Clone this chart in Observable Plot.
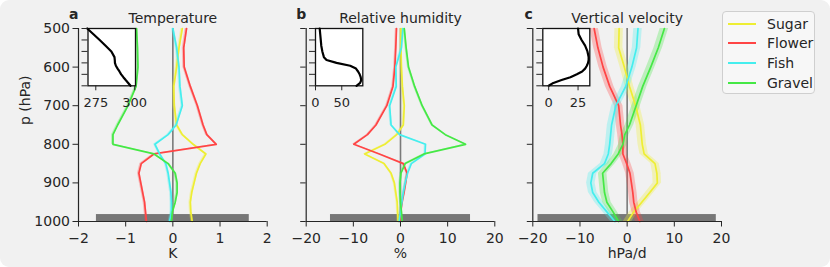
<!DOCTYPE html>
<html><head><meta charset="utf-8">
<script src="https://cdn.jsdelivr.net/npm/d3@7"></script>
<script src="https://cdn.jsdelivr.net/npm/@observablehq/plot@0.6"></script>
<style>
body{margin:0;background:#fff;}
#chart{position:relative;width:830px;height:267px;background:#f1f1f1;border-radius:9px;overflow:hidden;font-family:"DejaVu Sans",sans-serif;color:#262626;}
#chart svg{position:absolute;top:0;}
#legend{position:absolute;left:722px;top:11px;width:93px;height:83px;border:1px solid #cfcfcf;border-radius:4px;background:#f7f7f7;box-sizing:border-box;}
.lg{position:absolute;left:0;height:20px;font-size:14px;line-height:20px;}
.lg span.sw{position:absolute;left:5px;top:9px;width:28px;height:0;border-top:2px solid;}
.lg span.tx{position:absolute;left:44px;top:0;white-space:nowrap;}
</style></head><body><div id="chart"></div>
<script>
// pressure levels (hPa)
const levels = [500,550,600,650,700,750,775,800,825,850,875,900,925,950,975,1000];
const seriesNames = ["Sugar","Flower","Fish","Gravel"];
const seriesColors = ["#eeee33","#ff4545","#45eeee","#45e845"];

// Temperature anomaly (K)
const tSugar  = [0.2,0.13,0.08,0.02,0.03,0.08,0.2,0.43,0.7,0.58,0.5,0.45,0.4,0.37,0.38,0.41];
const tFlower = [0.29,0.23,0.24,0.37,0.52,0.64,0.72,0.92,-0.4,-0.67,-0.72,-0.68,-0.64,-0.6,-0.58,-0.56];
const tFish   = [0.0,0.08,0.13,0.15,0.2,0.07,-0.1,-0.38,-0.28,-0.15,-0.1,-0.07,-0.04,-0.03,-0.03,-0.07];
const tGravel = [-0.77,-0.75,-0.74,-0.78,-0.95,-1.17,-1.27,-1.27,-0.4,-0.1,0.05,0.09,0.09,0.05,-0.01,-0.03];

// Relative humidity anomaly (%)
const rhSugar  = [0.1,0.1,0.2,0.4,0.8,0.6,-0.8,-3.3,-7.6,-3.5,-2.0,-1.3,-1.0,-0.7,-0.6,-0.5];
const rhFlower = [-0.85,-1.0,-1.2,-1.6,-2.9,-5.2,-7.0,-9.9,-4.5,0.6,1.4,1.1,0.75,0.35,0.05,-0.15];
const rhFish   = [0.5,0.2,-1.0,-0.9,-2.3,-2.0,-0.2,5.3,5.2,2.3,1.5,1.0,0.6,0.3,0.0,-0.3];
const rhGravel = [0.8,1.2,1.7,3.0,4.6,6.7,9.5,13.8,5.0,1.0,0.1,-0.1,-0.1,0.0,0.2,0.35];

// Vertical velocity anomaly (hPa/d)
const wSugar  = [-1.7,-1.8,-0.6,0.5,1.8,2.8,3.0,3.2,3.6,5.9,6.3,6.4,4.8,3.1,1.4,0.1];
const wFlower = [-7.0,-6.2,-5.1,-3.7,-1.8,-1.4,-1.1,-0.9,-0.9,-0.1,0.6,0.9,1.2,1.4,1.9,2.7];
const wFish   = [2.3,2.0,1.0,-0.3,-2.4,-3.3,-3.5,-3.7,-4.0,-4.8,-7.3,-7.7,-7.3,-6.0,-4.3,-2.6];
const wGravel = [7.9,6.6,5.0,3.3,1.9,0.5,-0.5,-0.9,-1.9,-3.4,-5.2,-5.0,-4.8,-4.3,-3.0,-1.8];

// uncertainty half-widths
const bandHalf = [0.03, 0.25, 0.9];

// mean profiles (insets)
const meanT  = [269.5,273.5,277.5,281.3,285,287,287.2,287.3,287.9,289,290.2,291.3,292.7,294.2,295.8,297.3];
const meanRH = [8,9,10,11,13,16,21,40,66,77,81,84,86,87,85,78];
const meanW  = [25,25.5,28,31,33,34,34,33.5,32.5,31,28.5,24,18.5,11,4,0];

// gray surface bar
const barHalf = [1.62, 14.85, 18.9];
const barP = [982, 1000];

const yTicks = [500,600,700,800,900,1000];
const insetYTicks = [500,600,700,800,900,1000];

const fmt = d => d < 0 ? "\u2212" + (-d) : String(d);

const chart = document.getElementById("chart");

function tidy(arrs) {
  const rows = [];
  arrs.forEach((a, k) => a.forEach((v, i) => rows.push({series: seriesNames[k], p: levels[i], v})));
  return rows;
}

function panel(o) {
  const rows = tidy(o.series);
  const hb = o.band;
  const marks = [
    Plot.rectX([{x1: -o.bar, x2: o.bar, y1: barP[0], y2: barP[1]}], {x1: "x1", x2: "x2", y1: "y1", y2: "y2", fill: "#777"}),
    Plot.ruleX([0], {stroke: "#7a7a7a", strokeWidth: 1.6}),
    Plot.areaX(rows, {y: "p", x1: d => d.v - hb, x2: d => d.v + hb, fill: "series", z: "series", fillOpacity: o.bandOpacity, curve: "linear"}),
    Plot.line(rows, {x: "v", y: "p", stroke: "series", z: "series", strokeWidth: 1.7}),
    Plot.ruleX([o.xDomain[0]], {stroke: "#262626", strokeWidth: 1.2}),
    Plot.ruleY([1000], {stroke: "#262626", strokeWidth: 1.2}),
    Plot.axisX({ticks: o.xTicks, tickSize: 5.5, tickPadding: 6, label: null, tickFormat: fmt, stroke: "#262626"}),
    Plot.axisY({ticks: yTicks, tickSize: 5.5, tickPadding: 3, label: null, tickFormat: o.showY ? fmt : (() => ""), stroke: "#262626"}),
    Plot.text([o.xLabel], {frameAnchor: "bottom", lineAnchor: "middle", dy: 32.5, text: d => d, fontSize: 14}),
    Plot.text([o.title], {frameAnchor: "top", lineAnchor: "middle", dy: -10, text: d => d, fontSize: 14}),
    Plot.text([o.letter], {frameAnchor: "top-left", lineAnchor: "middle", textAnchor: "end", dy: -14.2, text: d => d, fontSize: 14, fontWeight: "bold"})
  ];
  if (o.yLabel) marks.push(Plot.text([o.yLabel], {frameAnchor: "left", lineAnchor: "middle", dx: -53, rotate: -90, text: d => d, fontSize: 14}));
  const svg = Plot.plot({
    width: o.width, height: 267,
    marginLeft: o.mL, marginRight: o.mR, marginTop: 28, marginBottom: 46,
    style: {background: "transparent", fontFamily: "DejaVu Sans", fontSize: "14px", color: "#262626", overflow: "visible"},
    x: {domain: o.xDomain, label: null},
    y: {domain: [500, 1000], reverse: true, label: null},
    color: {domain: seriesNames, range: seriesColors},
    marks
  });
  svg.style.left = o.left + "px";
  chart.appendChild(svg);
}

function inset(o) {
  const rows = levels.map((p, i) => ({p, v: o.values[i]}));
  const svg = Plot.plot({
    width: o.width, height: 115,
    marginLeft: o.mL, marginRight: o.mR, marginTop: 28, marginBottom: 29.7,
    style: {background: "transparent", fontFamily: "DejaVu Sans", fontSize: "13px", color: "#262626", overflow: "visible"},
    x: {domain: o.xDomain, label: null},
    y: {domain: [500, 1000], reverse: true, label: null},
    marks: [
      Plot.frame({fill: "white", stroke: "#111", strokeWidth: 1.3}),
      Plot.line(rows, {x: "v", y: "p", stroke: "black", strokeWidth: 2.2}),
      Plot.axisY({ticks: insetYTicks, tickSize: 6, tickFormat: () => "", label: null, stroke: "#262626"}),
      Plot.axisX({ticks: o.xTicks, tickSize: 5, tickPadding: 7, label: null, tickFormat: fmt, stroke: "#262626"})
    ]
  });
  svg.style.left = o.left + "px";
  chart.appendChild(svg);
}

panel({left: 0, width: 275, mL: 78, mR: 8.3, xDomain: [-2, 2], xTicks: [-2,-1,0,1,2], xLabel: "K",
  title: "Temperature", letter: "a", showY: true, yLabel: "p (hPa)", bar: barHalf[0], band: bandHalf[0], bandOpacity: 0.3,
  series: [tSugar, tFlower, tFish, tGravel]});
panel({left: 270, width: 240, mL: 35.7, mR: 15.7, xDomain: [-20, 20], xTicks: [-20,-10,0,10,20], xLabel: "%",
  title: "Relative humidity", letter: "b", showY: false, bar: barHalf[1], band: bandHalf[1], bandOpacity: 0.3,
  series: [rhSugar, rhFlower, rhFish, rhGravel]});
panel({left: 490, width: 240, mL: 42.3, mR: 9, xDomain: [-20, 20], xTicks: [-20,-10,0,10,20], xLabel: "hPa/d",
  title: "Vertical velocity", letter: "c", showY: false, bar: barHalf[2], band: bandHalf[2], bandOpacity: 0.3,
  series: [wSugar, wFlower, wFish, wGravel]});

inset({left: 55, width: 95, mL: 32.5, mR: 15, xDomain: [270, 300.5], xTicks: [275, 300], values: meanT});
inset({left: 280, width: 95, mL: 35, mR: 12.7, xDomain: [0, 90], xTicks: [0, 50], values: meanRH});
inset({left: 505, width: 95, mL: 37.3, mR: 10.7, xDomain: [-5, 35], xTicks: [0, 25], values: meanW});

// legend
const lg = document.createElement("div");
lg.id = "legend";
seriesNames.forEach((n, i) => {
  const row = document.createElement("div");
  row.className = "lg";
  row.style.top = (1.5 + i * 19.7) + "px";
  const sw = document.createElement("span");
  sw.className = "sw"; sw.style.borderTopColor = seriesColors[i];
  const tx = document.createElement("span");
  tx.className = "tx"; tx.textContent = n;
  row.appendChild(sw); row.appendChild(tx);
  lg.appendChild(row);
});
chart.appendChild(lg);
</script></body></html>
